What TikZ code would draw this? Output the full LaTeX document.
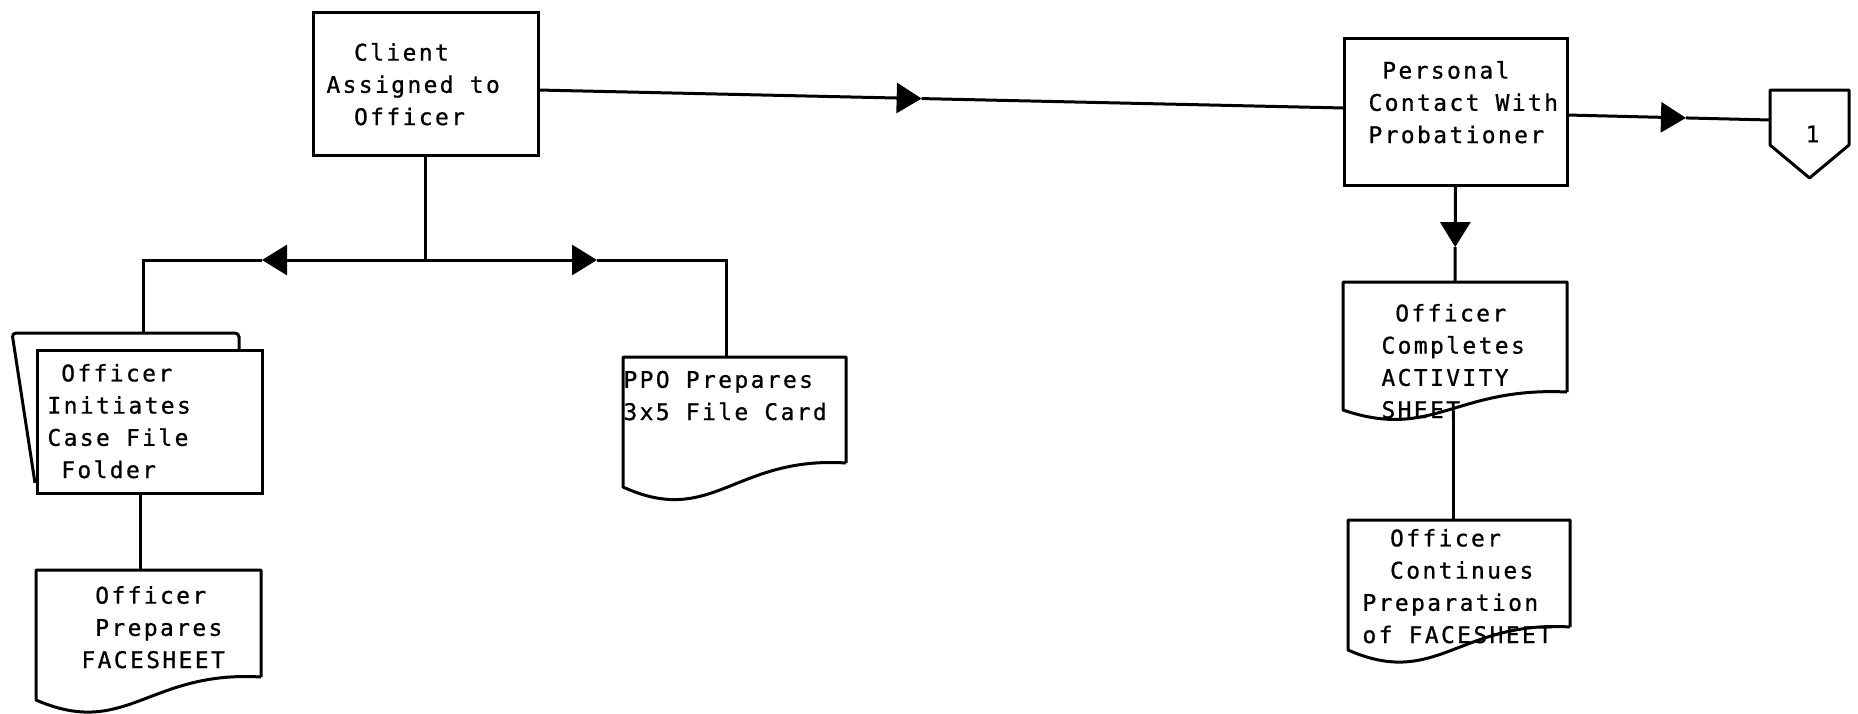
\documentclass[tikz,border=0pt]{standalone}
\usepackage{fontspec}
\newfontfamily\tw[LetterSpace=10.5,FakeBold=0.8]{DejaVu Sans Mono}
\usetikzlibrary{arrows.meta,calc}
\newlength\cw
\newcommand\ind[1]{\hspace*{#1\cw}}
\newcommand\DocOutline[2]{%
  \draw[line join=round] (#1.south east) -- (#1.north east) -- (#1.north west)
    -- ($(#1.south west)+(0,#2)$)
    .. controls ($(#1.south west)!0.4!(#1.south east)+(0,2.7*#2)$)
    and ($(#1.south west)!0.5!(#1.south east)+(0,-0.3*#2)$) .. (#1.south east);}
\begin{document}
\settowidth{\cw}{\tw\fontsize{11.45}{16.1}\selectfont M}%
\begin{tikzpicture}[x=0.5pt,y=-0.5pt,line width=1.5pt,
  shp/.style={rectangle,inner sep=0pt,outer sep=0pt},
  boxshape/.style={shp,draw},
  txtfont/.style={font=\tw\fontsize{11.45}{16.1}\selectfont},
  txt/.style={txtfont,align=left,anchor=base west,inner sep=0pt},
  tri/.style={-{Triangle[length=12.5pt,width=15pt]}}]
\fill[white] (0,0) rectangle (1858,713);
\useasboundingbox (0,0) rectangle (1858,713);

% shapes
\node[boxshape,minimum width=112.5pt,minimum height=71.5pt] (client) at (425.5,83.5) {};
\node[boxshape,minimum width=111.5pt,minimum height=73.5pt] (per) at (1455.5,111.5) {};
\node[boxshape,minimum width=112.5pt,minimum height=71.5pt] (folder) at (149.5,421.5) {};
\node[shp,minimum width=111.5pt,minimum height=53pt] (ppo) at (734.5,410) {};
\node[shp,minimum width=112.5pt,minimum height=53.5pt] (face) at (148.5,623.5) {};
\node[shp,minimum width=112pt,minimum height=55pt] (act) at (1455,337) {};
\node[shp,minimum width=111pt,minimum height=53.5pt] (cont) at (1459,573.5) {};
\node[shp,txtfont,minimum width=39.5pt,minimum height=44pt] (conn) at (1809.5,134) {\hspace*{3pt}1};

\DocOutline{ppo}{24}
\DocOutline{face}{23}
\DocOutline{act}{18}
\DocOutline{cont}{23}
\draw[line join=round] (conn.north west) -- (conn.north east) -- ($(conn.north east)+(0,55)$)
  -- (conn.south) -- ($(conn.north west)+(0,55)$) -- cycle;

% folder back sheet
\coordinate (fbl) at (35,483);
\coordinate (fbtl) at (12,333);
\coordinate (fbtr) at (239,333);
\draw[rounded corners=2pt] (fbl) -- (fbtl) -- (fbtr) -- (fbtr |- folder.north);

% texts (anchored at the baseline of the last line)
\node[txt] (tclient) at (325,125) {\ind{2}Client\\Assigned to\\\ind{2}Officer};
\node[txt] (tper) at (1367,143) {\ind{1}Personal\\Contact With\\Probationer};
\node[txt] (tfold) at (46,478) {\ind{1}Officer\\Initiates\\Case File\\\ind{1}Folder};
\node[txt] (tface) at (80,668) {\ind{1}Officer\\\ind{1}Prepares\\FACESHEET};
\node[txt] (tppo) at (622,420) {PPO Prepares\\3x5 File Card};
\node[txt] (tact) at (1380,418) {\ind{1}Officer\\Completes\\ACTIVITY\\SHEET};
\node[txt] (tcont) at (1361,643) {\ind{2}Officer\\\ind{2}Continues\\Preparation\\of FACESHEET};

% branch from client
\coordinate (hy) at (0,260);
\coordinate (J) at (client.south |- hy);
\coordinate (aL) at (262,260);
\coordinate (aR) at (597,260);
\coordinate (foldtop) at (143,333);
\coordinate (px) at (726,0);
\draw (client.south) -- (J);
\draw[tri] (J) -- (aL);
\draw (aL) -| (foldtop);
\draw[tri] (J) -- (aR);
\draw (aR) -| (ppo.north -| px);

% folder to facesheet
\coordinate (fx) at (140,0);
\draw (folder.south -| fx) -- (face.north -| fx);

% main line
\coordinate (m0) at ($(client.east)+(0,6.5)$);
\coordinate (m2) at ($(per.west)+(0,-3.5)$);
\coordinate (m1) at ($(m0)!0.476!(m2)$);
\draw[tri] (m0) -- (m1);
\draw (m1) -- (m2);

% to connector
\coordinate (r0) at ($(per.east)+(0,3.5)$);
\coordinate (r2) at ($(conn.west)+(0,-14)$);
\coordinate (r1) at ($(r0)!0.586!(r2)$);
\draw[tri] (r0) -- (r1);
\draw (r1) -- (r2);

% down to activity sheet
\coordinate (d1) at ($(per.south)!0.64!(act.north)$);
\draw[tri] (per.south) -- (d1);
\draw (d1) -- (act.north);

% activity to continues
\coordinate (ab) at ($(act.south)+(-2,19)$);
\draw (ab) -- (ab |- cont.north);
\end{tikzpicture}
\end{document}
